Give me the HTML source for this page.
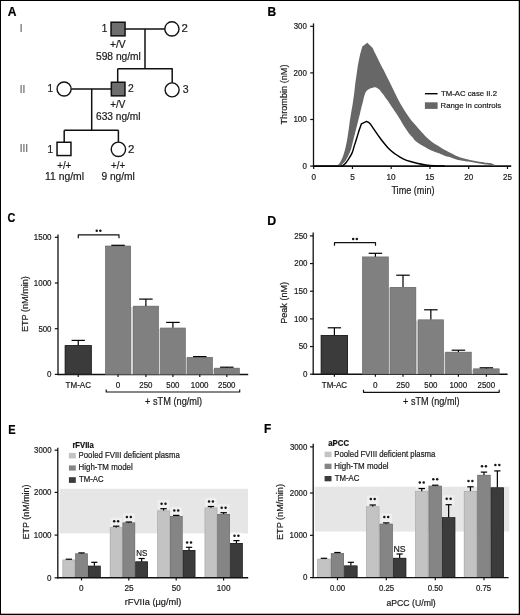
<!DOCTYPE html>
<html><head><meta charset="utf-8"><style>
html,body{margin:0;padding:0;background:#fff;}
svg{display:block;font-family:"Liberation Sans", sans-serif;will-change:transform;}
text{stroke:currentColor;stroke-width:0.2px;paint-order:stroke;}
</style></head><body>
<svg width="520" height="615" viewBox="0 0 520 615">
<rect x="0" y="0" width="520" height="615" fill="#fff"/>
<text x="7.80" y="15.80" font-size="12.2" fill="#000" color="#000" textLength="8.73" lengthAdjust="spacingAndGlyphs" font-weight="bold">A</text>
<text x="21.1" y="31.7" font-size="10" text-anchor="middle" fill="#6a6a6a" color="#6a6a6a">I</text>
<text x="22.6" y="92.6" font-size="10" text-anchor="middle" fill="#6a6a6a" color="#6a6a6a">II</text>
<text x="23.9" y="152.3" font-size="10" text-anchor="middle" fill="#6a6a6a" color="#6a6a6a">III</text>
<line x1="125" y1="29.1" x2="165" y2="29.1" stroke="#111" stroke-width="1.5"/>
<line x1="145" y1="29.1" x2="145" y2="68.7" stroke="#111" stroke-width="1.5"/>
<line x1="117.7" y1="68.7" x2="172.7" y2="68.7" stroke="#111" stroke-width="1.5"/>
<line x1="117.7" y1="68.7" x2="117.7" y2="82" stroke="#111" stroke-width="1.5"/>
<line x1="172.2" y1="68.7" x2="172.2" y2="83" stroke="#111" stroke-width="1.5"/>
<rect x="111.05" y="22.25" width="14" height="13.6" fill="#6e6e6e" stroke="#111" stroke-width="1.5"/>
<circle cx="171.9" cy="28.9" r="7.1" fill="#fff" stroke="#111" stroke-width="1.4"/>
<text x="104.6" y="32.0" font-size="10" text-anchor="middle" fill="#1a1a1a" color="#1a1a1a">1</text>
<text x="181.43" y="32.20" font-size="10" fill="#1a1a1a" color="#1a1a1a" textLength="6.36" lengthAdjust="spacingAndGlyphs">2</text>
<text x="110.01" y="48.10" font-size="10" fill="#1a1a1a" color="#1a1a1a" textLength="15.73" lengthAdjust="spacingAndGlyphs">+/V</text>
<text x="95.99" y="59.72" font-size="10" fill="#1a1a1a" color="#1a1a1a" textLength="44.89" lengthAdjust="spacingAndGlyphs">598 ng/ml</text>
<line x1="71.5" y1="88.9" x2="111" y2="88.9" stroke="#111" stroke-width="1.5"/>
<line x1="91.7" y1="88.9" x2="91.7" y2="130.2" stroke="#111" stroke-width="1.5"/>
<line x1="64.2" y1="130.2" x2="118.4" y2="130.2" stroke="#111" stroke-width="1.5"/>
<line x1="64.2" y1="130.2" x2="64.2" y2="142.5" stroke="#111" stroke-width="1.5"/>
<line x1="118.4" y1="130.2" x2="118.4" y2="143" stroke="#111" stroke-width="1.5"/>
<rect x="111.35" y="82.25" width="13.6" height="13.6" fill="#6e6e6e" stroke="#111" stroke-width="1.5"/>
<circle cx="64.1" cy="89" r="7.05" fill="#fff" stroke="#111" stroke-width="1.4"/>
<circle cx="172.1" cy="89.9" r="7.0" fill="#fff" stroke="#111" stroke-width="1.4"/>
<text x="50.4" y="92.3" font-size="10" text-anchor="middle" fill="#1a1a1a" color="#1a1a1a">1</text>
<text x="127.98" y="92.40" font-size="10" fill="#1a1a1a" color="#1a1a1a" textLength="5.74" lengthAdjust="spacingAndGlyphs">2</text>
<text x="182.71" y="93.20" font-size="10" fill="#1a1a1a" color="#1a1a1a" textLength="5.85" lengthAdjust="spacingAndGlyphs">3</text>
<text x="110.13" y="108.10" font-size="10" fill="#1a1a1a" color="#1a1a1a" textLength="15.11" lengthAdjust="spacingAndGlyphs">+/V</text>
<text x="95.99" y="120.42" font-size="10" fill="#1a1a1a" color="#1a1a1a" textLength="44.58" lengthAdjust="spacingAndGlyphs">633 ng/ml</text>
<rect x="57.05" y="142.25" width="13.9" height="13.3" fill="#fff" stroke="#111" stroke-width="1.5"/>
<circle cx="118.4" cy="149.3" r="7.2" fill="#fff" stroke="#111" stroke-width="1.4"/>
<text x="50.2" y="153.1" font-size="10" text-anchor="middle" fill="#1a1a1a" color="#1a1a1a">1</text>
<text x="127.93" y="153.10" font-size="10" fill="#1a1a1a" color="#1a1a1a" textLength="6.36" lengthAdjust="spacingAndGlyphs">2</text>
<text x="57.24" y="169.20" font-size="10" fill="#1a1a1a" color="#1a1a1a" textLength="14.03" lengthAdjust="spacingAndGlyphs">+/+</text>
<text x="111.04" y="169.20" font-size="10" fill="#1a1a1a" color="#1a1a1a" textLength="14.03" lengthAdjust="spacingAndGlyphs">+/+</text>
<text x="45.02" y="179.93" font-size="10" fill="#1a1a1a" color="#1a1a1a" textLength="38.96" lengthAdjust="spacingAndGlyphs">11 ng/ml</text>
<text x="101.42" y="179.93" font-size="10" fill="#1a1a1a" color="#1a1a1a" textLength="33.47" lengthAdjust="spacingAndGlyphs">9 ng/ml</text>
<text x="267.39" y="15.80" font-size="12.2" fill="#000" color="#000" textLength="8.64" lengthAdjust="spacingAndGlyphs" font-weight="bold">B</text>
<line x1="313.5" y1="23.4" x2="313.5" y2="166.9" stroke="#111" stroke-width="1.3"/>
<line x1="310.2" y1="166.1" x2="313.5" y2="166.1" stroke="#111" stroke-width="1.2"/>
<text x="302.38" y="168.94" font-size="8.3" fill="#1a1a1a" color="#1a1a1a" textLength="4.43" lengthAdjust="spacingAndGlyphs">0</text>
<line x1="310.2" y1="119.5" x2="313.5" y2="119.5" stroke="#111" stroke-width="1.2"/>
<text x="293.40" y="122.34" font-size="8.3" fill="#1a1a1a" color="#1a1a1a" textLength="13.41" lengthAdjust="spacingAndGlyphs">100</text>
<line x1="310.2" y1="72.9" x2="313.5" y2="72.9" stroke="#111" stroke-width="1.2"/>
<text x="293.60" y="75.74" font-size="8.3" fill="#1a1a1a" color="#1a1a1a" textLength="13.20" lengthAdjust="spacingAndGlyphs">200</text>
<line x1="310.2" y1="26.30000000000001" x2="313.5" y2="26.30000000000001" stroke="#111" stroke-width="1.2"/>
<text x="293.71" y="29.14" font-size="8.3" fill="#1a1a1a" color="#1a1a1a" textLength="13.10" lengthAdjust="spacingAndGlyphs">300</text>
<line x1="312.9" y1="166.1" x2="511.2" y2="166.1" stroke="#111" stroke-width="1.55"/>
<line x1="313.7" y1="166" x2="313.7" y2="169.0" stroke="#111" stroke-width="1.2"/>
<text x="311.42" y="179.72" font-size="8.3" fill="#1a1a1a" color="#1a1a1a" textLength="4.54" lengthAdjust="spacingAndGlyphs">0</text>
<line x1="352.45" y1="166" x2="352.45" y2="169.0" stroke="#111" stroke-width="1.2"/>
<text x="350.17" y="179.72" font-size="8.3" fill="#1a1a1a" color="#1a1a1a" textLength="4.57" lengthAdjust="spacingAndGlyphs">5</text>
<line x1="391.2" y1="166" x2="391.2" y2="169.0" stroke="#111" stroke-width="1.2"/>
<text x="386.48" y="179.72" font-size="8.3" fill="#1a1a1a" color="#1a1a1a" textLength="9.14" lengthAdjust="spacingAndGlyphs">10</text>
<line x1="429.95" y1="166" x2="429.95" y2="169.0" stroke="#111" stroke-width="1.2"/>
<text x="425.23" y="179.72" font-size="8.3" fill="#1a1a1a" color="#1a1a1a" textLength="9.17" lengthAdjust="spacingAndGlyphs">15</text>
<line x1="468.7" y1="166" x2="468.7" y2="169.0" stroke="#111" stroke-width="1.2"/>
<text x="464.20" y="179.72" font-size="8.3" fill="#1a1a1a" color="#1a1a1a" textLength="8.92" lengthAdjust="spacingAndGlyphs">20</text>
<line x1="507.45" y1="166" x2="507.45" y2="169.0" stroke="#111" stroke-width="1.2"/>
<text x="502.95" y="179.72" font-size="8.3" fill="#1a1a1a" color="#1a1a1a" textLength="8.94" lengthAdjust="spacingAndGlyphs">25</text>
<text x="391.40" y="193.62" font-size="10" fill="#1a1a1a" color="#1a1a1a" textLength="43.15" lengthAdjust="spacingAndGlyphs">Time (min)</text>
<text x="0" y="0" font-size="9.3" fill="#1a1a1a" color="#1a1a1a" textLength="59.95" lengthAdjust="spacingAndGlyphs" transform="translate(287.26 124.51) rotate(-90)">Thrombin (nM)</text>
<path d="M335.50,166.10 C335.73,166.03 336.34,166.11 337.00,165.60 C337.66,165.09 339.03,164.02 339.90,162.70 C340.77,161.38 342.00,158.86 342.80,156.80 C343.60,154.75 344.54,151.62 345.20,149.00 C345.86,146.38 346.68,142.23 347.20,139.30 C347.72,136.38 348.30,132.32 348.70,129.50 C349.10,126.68 349.52,123.06 349.90,120.50 C350.27,117.94 350.78,114.92 351.20,112.40 C351.62,109.88 352.26,106.46 352.70,103.70 C353.13,100.94 353.73,96.92 354.10,94.00 C354.48,91.08 354.82,87.12 355.20,84.20 C355.57,81.28 356.18,77.42 356.60,74.50 C357.02,71.58 357.49,67.62 358.00,64.70 C358.51,61.78 359.52,57.13 360.00,55.00 C360.48,52.87 360.85,51.79 361.20,50.50 C361.55,49.21 362.13,47.02 362.30,46.40 L367.3,42.8 L372.70,47.90 C373.10,48.77 374.42,51.68 375.40,53.70 C376.38,55.73 378.04,59.09 379.20,61.40 C380.36,63.71 382.05,67.03 383.10,69.10 C384.15,71.17 385.36,73.53 386.20,75.20 C387.04,76.87 387.60,77.98 388.70,80.20 C389.80,82.42 392.05,87.03 393.50,90.00 C394.95,92.97 397.25,97.75 398.40,100.00 C399.55,102.25 400.33,103.50 401.20,105.00 C402.07,106.50 403.25,108.50 404.20,110.00 C405.14,111.50 406.48,113.50 407.50,115.00 C408.52,116.50 409.88,118.56 411.00,120.00 C412.12,121.44 413.65,123.07 415.00,124.60 C416.35,126.13 418.27,128.31 420.00,130.20 C421.73,132.09 424.70,135.44 426.50,137.20 C428.30,138.95 430.26,140.61 432.00,141.90 C433.74,143.19 436.30,144.65 438.10,145.80 C439.90,146.96 442.27,148.59 444.00,149.60 C445.73,150.60 447.95,151.66 449.60,152.50 C451.25,153.34 453.26,154.42 455.00,155.20 C456.74,155.98 459.40,157.08 461.20,157.70 C463.00,158.31 465.27,158.87 467.00,159.30 C468.73,159.74 471.05,160.25 472.70,160.60 C474.35,160.94 476.31,161.33 478.00,161.60 C479.69,161.87 482.20,162.18 484.00,162.40 C485.80,162.62 488.65,162.86 490.00,163.10 C491.35,163.34 492.18,163.62 493.00,164.00 C493.82,164.38 495.12,165.36 495.50,165.60 L495.50,165.80 C494.68,165.70 491.73,165.32 490.00,165.10 C488.27,164.88 485.80,164.57 484.00,164.30 C482.20,164.03 479.69,163.60 478.00,163.30 C476.31,163.00 474.35,162.56 472.70,162.30 C471.05,162.05 468.73,161.85 467.00,161.60 C465.27,161.34 463.00,161.00 461.20,160.60 C459.40,160.19 456.74,159.43 455.00,158.90 C453.26,158.38 451.25,157.62 449.60,157.10 C447.95,156.57 445.73,156.00 444.00,155.40 C442.27,154.80 439.90,153.79 438.10,153.10 C436.30,152.41 433.74,151.58 432.00,150.80 C430.26,150.02 428.24,148.83 426.50,147.90 C424.76,146.97 422.12,145.69 420.40,144.60 C418.67,143.50 416.15,141.65 415.00,140.60 C413.85,139.55 413.63,138.71 412.70,137.60 C411.77,136.49 409.87,134.55 408.80,133.20 C407.74,131.85 406.47,129.89 405.60,128.60 C404.73,127.31 403.84,125.99 403.00,124.60 C402.16,123.20 400.98,120.92 400.00,119.30 C399.02,117.68 397.53,115.39 396.50,113.80 C395.47,112.21 394.13,110.26 393.10,108.70 C392.07,107.14 390.65,104.92 389.60,103.40 C388.55,101.89 387.14,100.04 386.10,98.60 C385.06,97.16 383.74,95.16 382.70,93.80 C381.66,92.44 380.12,90.40 379.20,89.50 C378.28,88.60 377.44,88.11 376.60,87.80 C375.76,87.48 374.64,87.27 373.60,87.40 C372.56,87.54 370.80,88.12 369.70,88.70 C368.60,89.28 367.11,90.22 366.30,91.30 C365.49,92.38 364.81,94.34 364.30,95.90 C363.79,97.46 363.33,99.95 362.90,101.70 C362.46,103.45 361.83,105.84 361.40,107.60 C360.96,109.35 360.45,111.57 360.00,113.40 C359.55,115.23 359.00,117.38 358.40,119.80 C357.80,122.22 356.74,126.58 356.00,129.50 C355.26,132.43 354.24,136.38 353.50,139.30 C352.76,142.23 351.90,146.51 351.10,149.00 C350.31,151.49 349.14,154.00 348.20,155.90 C347.25,157.81 345.90,160.29 344.80,161.70 C343.70,163.11 341.69,164.64 340.90,165.30 C340.10,165.96 339.71,165.98 339.50,166.10 Z" fill="#676767"/>
<path d="M313.80,166.10 C317.13,166.10 331.80,166.13 336.00,166.10 C340.20,166.07 340.48,166.20 341.80,165.90 C343.12,165.60 343.76,165.16 344.80,164.10 C345.84,163.03 347.60,160.48 348.70,158.80 C349.80,157.12 351.23,154.96 352.10,152.90 C352.97,150.84 353.76,147.44 354.50,145.10 C355.24,142.76 356.26,139.64 357.00,137.30 C357.74,134.96 358.74,131.53 359.40,129.50 C360.06,127.47 361.10,124.66 361.40,123.80 L366.60,121.40 C366.90,121.55 368.02,121.98 368.60,122.40 C369.19,122.82 369.69,123.17 370.50,124.20 C371.31,125.23 372.80,127.56 374.00,129.30 C375.20,131.04 377.25,134.05 378.50,135.80 C379.75,137.56 380.71,139.02 382.30,141.00 C383.89,142.98 387.17,147.05 389.10,149.00 C391.04,150.95 393.62,152.83 395.20,154.00 C396.77,155.17 398.25,155.99 399.60,156.80 C400.95,157.61 402.58,158.69 404.20,159.40 C405.82,160.11 408.33,160.88 410.40,161.50 C412.47,162.12 415.69,162.97 418.00,163.50 C420.31,164.03 423.48,164.66 425.80,165.00 C428.12,165.34 430.62,165.64 433.50,165.80 C436.38,165.97 443.27,166.06 445.00,166.10" fill="none" stroke="#000" stroke-width="1.45" stroke-linejoin="round"/>
<line x1="424.9" y1="93.7" x2="437.6" y2="93.7" stroke="#000" stroke-width="1.4"/>
<text x="441.03" y="96.02" font-size="7.6" fill="#1a1a1a" color="#1a1a1a" textLength="55.97" lengthAdjust="spacingAndGlyphs">TM-AC case II.2</text>
<rect x="424.9" y="102.3" width="12.7" height="6.6" fill="#676767"/>
<text x="440.56" y="108.02" font-size="7.6" fill="#1a1a1a" color="#1a1a1a" textLength="60.71" lengthAdjust="spacingAndGlyphs">Range in controls</text>
<text x="7.57" y="222.08" font-size="12.2" fill="#000" color="#000" textLength="7.83" lengthAdjust="spacingAndGlyphs" font-weight="bold">C</text>
<line x1="58.0" y1="234.5" x2="58.0" y2="375.09999999999997" stroke="#111" stroke-width="1.3"/>
<line x1="54.8" y1="374.4" x2="58.0" y2="374.4" stroke="#111" stroke-width="1.2"/>
<text x="47.08" y="377.24" font-size="8.3" fill="#1a1a1a" color="#1a1a1a" textLength="4.43" lengthAdjust="spacingAndGlyphs">0</text>
<line x1="54.8" y1="328.7" x2="58.0" y2="328.7" stroke="#111" stroke-width="1.2"/>
<text x="38.39" y="331.54" font-size="8.3" fill="#1a1a1a" color="#1a1a1a" textLength="13.12" lengthAdjust="spacingAndGlyphs">500</text>
<line x1="54.8" y1="283.0" x2="58.0" y2="283.0" stroke="#111" stroke-width="1.2"/>
<text x="33.80" y="285.84" font-size="8.3" fill="#1a1a1a" color="#1a1a1a" textLength="17.71" lengthAdjust="spacingAndGlyphs">1000</text>
<line x1="54.8" y1="237.3" x2="58.0" y2="237.3" stroke="#111" stroke-width="1.2"/>
<text x="33.80" y="240.14" font-size="8.3" fill="#1a1a1a" color="#1a1a1a" textLength="17.71" lengthAdjust="spacingAndGlyphs">1500</text>
<text x="0" y="0" font-size="9.3" fill="#1a1a1a" color="#1a1a1a" textLength="55.70" lengthAdjust="spacingAndGlyphs" transform="translate(27.61 331.95) rotate(-90)">ETP (nM/min)</text>
<line x1="57.4" y1="374.4" x2="248.2" y2="374.4" stroke="#111" stroke-width="1.45"/>
<rect x="64.8" y="345.2" width="26.900000000000006" height="29.19999999999999" fill="#3b3b3b"/>
<rect x="65.2" y="345.59999999999997" width="26.100000000000005" height="28.399999999999988" fill="none" stroke="#222" stroke-width="0.8"/>
<line x1="78.25" y1="345.2" x2="78.25" y2="340.4" stroke="#000" stroke-width="1.2"/>
<line x1="71.6" y1="340.4" x2="84.9" y2="340.4" stroke="#000" stroke-width="1.2"/>
<line x1="78.25" y1="374.4" x2="78.25" y2="377.0" stroke="#111" stroke-width="1.2"/>
<text x="65.57" y="387.72" font-size="8.3" fill="#1a1a1a" color="#1a1a1a" textLength="25.47" lengthAdjust="spacingAndGlyphs">TM-AC</text>
<rect x="130.70000000000002" y="306.9" width="2.4999999999999942" height="67.5" fill="#d6d6d6"/>
<rect x="158.60000000000002" y="328.8" width="1.7999999999999772" height="45.599999999999966" fill="#d6d6d6"/>
<rect x="185.4" y="358.1" width="1.7000000000000113" height="16.299999999999955" fill="#d6d6d6"/>
<rect x="212.5" y="368.9" width="1.7000000000000113" height="5.5" fill="#d6d6d6"/>
<rect x="105.2" y="245.8" width="25.700000000000003" height="128.59999999999997" fill="#808080"/>
<rect x="105.5" y="246.10000000000002" width="25.1" height="127.99999999999997" fill="none" stroke="#727272" stroke-width="0.6"/>
<line x1="118.05000000000001" y1="245.8" x2="118.05000000000001" y2="245.3" stroke="#000" stroke-width="1.2"/>
<line x1="111.30000000000001" y1="245.3" x2="124.80000000000001" y2="245.3" stroke="#000" stroke-width="1.2"/>
<line x1="118.05000000000001" y1="374.4" x2="118.05000000000001" y2="377.0" stroke="#111" stroke-width="1.2"/>
<text x="115.77" y="387.72" font-size="8.3" fill="#1a1a1a" color="#1a1a1a" textLength="4.54" lengthAdjust="spacingAndGlyphs">0</text>
<rect x="133.0" y="305.9" width="25.80000000000001" height="68.5" fill="#808080"/>
<rect x="133.3" y="306.2" width="25.20000000000001" height="67.9" fill="none" stroke="#727272" stroke-width="0.6"/>
<line x1="145.9" y1="305.9" x2="145.9" y2="299.1" stroke="#000" stroke-width="1.2"/>
<line x1="139.15" y1="299.1" x2="152.65" y2="299.1" stroke="#000" stroke-width="1.2"/>
<line x1="145.9" y1="374.4" x2="145.9" y2="377.0" stroke="#111" stroke-width="1.2"/>
<text x="139.25" y="387.72" font-size="8.3" fill="#1a1a1a" color="#1a1a1a" textLength="13.20" lengthAdjust="spacingAndGlyphs">250</text>
<rect x="160.2" y="327.8" width="25.400000000000006" height="46.599999999999966" fill="#808080"/>
<rect x="160.5" y="328.1" width="24.800000000000004" height="45.999999999999964" fill="none" stroke="#727272" stroke-width="0.6"/>
<line x1="172.89999999999998" y1="327.8" x2="172.89999999999998" y2="322.4" stroke="#000" stroke-width="1.2"/>
<line x1="166.14999999999998" y1="322.4" x2="179.64999999999998" y2="322.4" stroke="#000" stroke-width="1.2"/>
<line x1="172.89999999999998" y1="374.4" x2="172.89999999999998" y2="377.0" stroke="#111" stroke-width="1.2"/>
<text x="166.34" y="387.72" font-size="8.3" fill="#1a1a1a" color="#1a1a1a" textLength="13.12" lengthAdjust="spacingAndGlyphs">500</text>
<rect x="186.9" y="357.1" width="25.799999999999983" height="17.299999999999955" fill="#808080"/>
<rect x="187.20000000000002" y="357.40000000000003" width="25.19999999999998" height="16.699999999999953" fill="none" stroke="#727272" stroke-width="0.6"/>
<line x1="199.8" y1="357.1" x2="199.8" y2="356.6" stroke="#000" stroke-width="1.2"/>
<line x1="193.05" y1="356.6" x2="206.55" y2="356.6" stroke="#000" stroke-width="1.2"/>
<line x1="199.8" y1="374.4" x2="199.8" y2="377.0" stroke="#111" stroke-width="1.2"/>
<text x="190.80" y="387.72" font-size="8.3" fill="#1a1a1a" color="#1a1a1a" textLength="17.71" lengthAdjust="spacingAndGlyphs">1000</text>
<rect x="214.0" y="367.9" width="25.599999999999994" height="6.5" fill="#808080"/>
<rect x="214.3" y="368.2" width="24.999999999999993" height="5.9" fill="none" stroke="#727272" stroke-width="0.6"/>
<line x1="226.8" y1="367.9" x2="226.8" y2="367.2" stroke="#000" stroke-width="1.2"/>
<line x1="220.05" y1="367.2" x2="233.55" y2="367.2" stroke="#000" stroke-width="1.2"/>
<line x1="226.8" y1="374.4" x2="226.8" y2="377.0" stroke="#111" stroke-width="1.2"/>
<text x="218.01" y="387.72" font-size="8.3" fill="#1a1a1a" color="#1a1a1a" textLength="17.51" lengthAdjust="spacingAndGlyphs">2500</text>
<path d="M106.2,389.4 L106.2,392.0 L239.7,392.0 L239.7,389.4" fill="none" stroke="#111" stroke-width="1.2" stroke-linejoin="round"/>
<text x="144.96" y="404.62" font-size="10" fill="#1a1a1a" color="#1a1a1a" textLength="57.19" lengthAdjust="spacingAndGlyphs">+ sTM (ng/ml)</text>
<path d="M78.3,238.20000000000002 L78.3,234.9 L119.0,234.9 L119.0,238.20000000000002" fill="none" stroke="#111" stroke-width="1.2" stroke-linejoin="round"/>
<circle cx="96.75" cy="230.65" r="1.25" fill="#151515" stroke="none" stroke-width="0"/>
<circle cx="100.35" cy="230.65" r="1.25" fill="#151515" stroke="none" stroke-width="0"/>
<text x="267.26" y="224.70" font-size="12.2" fill="#000" color="#000" textLength="8.96" lengthAdjust="spacingAndGlyphs" font-weight="bold">D</text>
<line x1="313.2" y1="232.5" x2="313.2" y2="374.9" stroke="#111" stroke-width="1.3"/>
<line x1="310.0" y1="374.2" x2="313.2" y2="374.2" stroke="#111" stroke-width="1.2"/>
<text x="303.08" y="377.04" font-size="8.3" fill="#1a1a1a" color="#1a1a1a" textLength="4.43" lengthAdjust="spacingAndGlyphs">0</text>
<line x1="310.0" y1="346.53999999999996" x2="313.2" y2="346.53999999999996" stroke="#111" stroke-width="1.2"/>
<text x="298.68" y="349.38" font-size="8.3" fill="#1a1a1a" color="#1a1a1a" textLength="8.83" lengthAdjust="spacingAndGlyphs">50</text>
<line x1="310.0" y1="318.88" x2="313.2" y2="318.88" stroke="#111" stroke-width="1.2"/>
<text x="294.10" y="321.72" font-size="8.3" fill="#1a1a1a" color="#1a1a1a" textLength="13.41" lengthAdjust="spacingAndGlyphs">100</text>
<line x1="310.0" y1="291.22" x2="313.2" y2="291.22" stroke="#111" stroke-width="1.2"/>
<text x="294.10" y="294.06" font-size="8.3" fill="#1a1a1a" color="#1a1a1a" textLength="13.41" lengthAdjust="spacingAndGlyphs">150</text>
<line x1="310.0" y1="263.56" x2="313.2" y2="263.56" stroke="#111" stroke-width="1.2"/>
<text x="294.30" y="266.40" font-size="8.3" fill="#1a1a1a" color="#1a1a1a" textLength="13.20" lengthAdjust="spacingAndGlyphs">200</text>
<line x1="310.0" y1="235.9" x2="313.2" y2="235.9" stroke="#111" stroke-width="1.2"/>
<text x="294.30" y="238.74" font-size="8.3" fill="#1a1a1a" color="#1a1a1a" textLength="13.20" lengthAdjust="spacingAndGlyphs">250</text>
<text x="0" y="0" font-size="9.3" fill="#1a1a1a" color="#1a1a1a" textLength="41.79" lengthAdjust="spacingAndGlyphs" transform="translate(287.46 323.75) rotate(-90)">Peak (nM)</text>
<line x1="312.59999999999997" y1="374.2" x2="507.6" y2="374.2" stroke="#111" stroke-width="1.45"/>
<rect x="320.8" y="335.0" width="27.19999999999999" height="39.19999999999999" fill="#3b3b3b"/>
<rect x="321.2" y="335.4" width="26.399999999999988" height="38.39999999999999" fill="none" stroke="#222" stroke-width="0.8"/>
<line x1="334.4" y1="335.0" x2="334.4" y2="327.8" stroke="#000" stroke-width="1.2"/>
<line x1="327.75" y1="327.8" x2="341.04999999999995" y2="327.8" stroke="#000" stroke-width="1.2"/>
<line x1="334.4" y1="374.2" x2="334.4" y2="376.8" stroke="#111" stroke-width="1.2"/>
<text x="321.72" y="387.82" font-size="8.3" fill="#1a1a1a" color="#1a1a1a" textLength="25.47" lengthAdjust="spacingAndGlyphs">TM-AC</text>
<rect x="388.40000000000003" y="288.0" width="1.6999999999999544" height="86.19999999999999" fill="#d6d6d6"/>
<rect x="415.90000000000003" y="320.6" width="2.1999999999999544" height="53.599999999999966" fill="#d6d6d6"/>
<rect x="443.6" y="352.9" width="1.9" height="21.30000000000001" fill="#d6d6d6"/>
<rect x="471.3" y="369.6" width="2.2000000000000113" height="4.599999999999966" fill="#d6d6d6"/>
<rect x="362.2" y="256.7" width="26.400000000000034" height="117.5" fill="#808080"/>
<rect x="362.5" y="257.0" width="25.800000000000033" height="116.9" fill="none" stroke="#727272" stroke-width="0.6"/>
<line x1="375.4" y1="256.7" x2="375.4" y2="253.3" stroke="#000" stroke-width="1.2"/>
<line x1="368.65" y1="253.3" x2="382.15" y2="253.3" stroke="#000" stroke-width="1.2"/>
<line x1="375.4" y1="374.2" x2="375.4" y2="376.8" stroke="#111" stroke-width="1.2"/>
<text x="373.12" y="387.82" font-size="8.3" fill="#1a1a1a" color="#1a1a1a" textLength="4.54" lengthAdjust="spacingAndGlyphs">0</text>
<rect x="389.9" y="287.0" width="26.200000000000045" height="87.19999999999999" fill="#808080"/>
<rect x="390.2" y="287.3" width="25.600000000000044" height="86.6" fill="none" stroke="#727272" stroke-width="0.6"/>
<line x1="403.0" y1="287.0" x2="403.0" y2="275.2" stroke="#000" stroke-width="1.2"/>
<line x1="396.25" y1="275.2" x2="409.75" y2="275.2" stroke="#000" stroke-width="1.2"/>
<line x1="403.0" y1="374.2" x2="403.0" y2="376.8" stroke="#111" stroke-width="1.2"/>
<text x="396.35" y="387.82" font-size="8.3" fill="#1a1a1a" color="#1a1a1a" textLength="13.20" lengthAdjust="spacingAndGlyphs">250</text>
<rect x="417.9" y="319.6" width="25.900000000000034" height="54.599999999999966" fill="#808080"/>
<rect x="418.2" y="319.90000000000003" width="25.300000000000033" height="53.999999999999964" fill="none" stroke="#727272" stroke-width="0.6"/>
<line x1="430.85" y1="319.6" x2="430.85" y2="309.8" stroke="#000" stroke-width="1.2"/>
<line x1="424.1" y1="309.8" x2="437.6" y2="309.8" stroke="#000" stroke-width="1.2"/>
<line x1="430.85" y1="374.2" x2="430.85" y2="376.8" stroke="#111" stroke-width="1.2"/>
<text x="424.29" y="387.82" font-size="8.3" fill="#1a1a1a" color="#1a1a1a" textLength="13.12" lengthAdjust="spacingAndGlyphs">500</text>
<rect x="445.3" y="351.9" width="26.19999999999999" height="22.30000000000001" fill="#808080"/>
<rect x="445.6" y="352.2" width="25.599999999999987" height="21.70000000000001" fill="none" stroke="#727272" stroke-width="0.6"/>
<line x1="458.4" y1="351.9" x2="458.4" y2="350.2" stroke="#000" stroke-width="1.2"/>
<line x1="451.65" y1="350.2" x2="465.15" y2="350.2" stroke="#000" stroke-width="1.2"/>
<line x1="458.4" y1="374.2" x2="458.4" y2="376.8" stroke="#111" stroke-width="1.2"/>
<text x="449.40" y="387.82" font-size="8.3" fill="#1a1a1a" color="#1a1a1a" textLength="17.71" lengthAdjust="spacingAndGlyphs">1000</text>
<rect x="473.3" y="368.6" width="26.099999999999966" height="5.599999999999966" fill="#808080"/>
<rect x="473.6" y="368.90000000000003" width="25.499999999999964" height="4.999999999999966" fill="none" stroke="#727272" stroke-width="0.6"/>
<line x1="486.35" y1="368.6" x2="486.35" y2="367.8" stroke="#000" stroke-width="1.2"/>
<line x1="479.6" y1="367.8" x2="493.1" y2="367.8" stroke="#000" stroke-width="1.2"/>
<line x1="486.35" y1="374.2" x2="486.35" y2="376.8" stroke="#111" stroke-width="1.2"/>
<text x="477.56" y="387.82" font-size="8.3" fill="#1a1a1a" color="#1a1a1a" textLength="17.51" lengthAdjust="spacingAndGlyphs">2500</text>
<path d="M363.5,389.7 L363.5,392.3 L499.2,392.3 L499.2,389.7" fill="none" stroke="#111" stroke-width="1.2" stroke-linejoin="round"/>
<text x="403.07" y="404.62" font-size="10" fill="#1a1a1a" color="#1a1a1a" textLength="56.48" lengthAdjust="spacingAndGlyphs">+ sTM (ng/ml)</text>
<path d="M334.5,245.79999999999998 L334.5,242.6 L375.5,242.6 L375.5,245.79999999999998" fill="none" stroke="#111" stroke-width="1.2" stroke-linejoin="round"/>
<circle cx="353.2" cy="238.9" r="1.25" fill="#151515" stroke="none" stroke-width="0"/>
<circle cx="356.8" cy="238.9" r="1.25" fill="#151515" stroke="none" stroke-width="0"/>
<text x="8.15" y="434.20" font-size="12.2" fill="#000" color="#000" textLength="7.38" lengthAdjust="spacingAndGlyphs" font-weight="bold">E</text>
<rect x="59.6" y="488.8" width="188.4" height="44.599999999999966" fill="#e6e6e6"/>
<line x1="57.8" y1="447.8" x2="57.8" y2="578.5" stroke="#111" stroke-width="1.3"/>
<line x1="54.599999999999994" y1="577.8" x2="57.8" y2="577.8" stroke="#111" stroke-width="1.2"/>
<text x="47.08" y="580.64" font-size="8.3" fill="#1a1a1a" color="#1a1a1a" textLength="4.43" lengthAdjust="spacingAndGlyphs">0</text>
<line x1="54.599999999999994" y1="535.1" x2="57.8" y2="535.1" stroke="#111" stroke-width="1.2"/>
<text x="33.80" y="537.94" font-size="8.3" fill="#1a1a1a" color="#1a1a1a" textLength="17.71" lengthAdjust="spacingAndGlyphs">1000</text>
<line x1="54.599999999999994" y1="492.4" x2="57.8" y2="492.4" stroke="#111" stroke-width="1.2"/>
<text x="34.01" y="495.24" font-size="8.3" fill="#1a1a1a" color="#1a1a1a" textLength="17.51" lengthAdjust="spacingAndGlyphs">2000</text>
<line x1="54.599999999999994" y1="450.2" x2="57.8" y2="450.2" stroke="#111" stroke-width="1.2"/>
<text x="34.11" y="453.04" font-size="8.3" fill="#1a1a1a" color="#1a1a1a" textLength="17.40" lengthAdjust="spacingAndGlyphs">3000</text>
<text x="0" y="0" font-size="9.3" fill="#1a1a1a" color="#1a1a1a" textLength="55.09" lengthAdjust="spacingAndGlyphs" transform="translate(28.51 539.54) rotate(-90)">ETP (nM/min)</text>
<text x="72.40" y="447.62" font-size="8.2" fill="#111" color="#111" textLength="21.25" lengthAdjust="spacingAndGlyphs" font-weight="bold">rFVIIa</text>
<rect x="68.9" y="452.9" width="6.8999999999999915" height="5.600000000000023" fill="#c3c3c3"/>
<text x="78.56" y="458.46" font-size="8.4" fill="#1a1a1a" color="#1a1a1a" textLength="101.24" lengthAdjust="spacingAndGlyphs">Pooled FVIII deficient plasma</text>
<rect x="68.9" y="465.4" width="6.8999999999999915" height="5.2000000000000455" fill="#858585"/>
<text x="78.55" y="470.26" font-size="8.4" fill="#1a1a1a" color="#1a1a1a" textLength="54.19" lengthAdjust="spacingAndGlyphs">High-TM model</text>
<rect x="68.9" y="477.2" width="6.8999999999999915" height="5.699999999999989" fill="#3b3b3b"/>
<text x="79.03" y="482.42" font-size="8.4" fill="#1a1a1a" color="#1a1a1a" textLength="24.55" lengthAdjust="spacingAndGlyphs">TM-AC</text>
<rect x="110.35" y="517.70" width="11.6" height="9.00" fill="#fff" opacity="0.4"/>
<rect x="123.05" y="513.50" width="11.6" height="9.00" fill="#fff" opacity="0.4"/>
<rect x="157.75" y="500.20" width="11.6" height="9.00" fill="#fff" opacity="0.4"/>
<rect x="170.45" y="506.90" width="11.6" height="9.00" fill="#fff" opacity="0.4"/>
<rect x="183.25" y="538.80" width="11.6" height="9.00" fill="#fff" opacity="0.4"/>
<rect x="205.15" y="498.00" width="11.6" height="9.00" fill="#fff" opacity="0.4"/>
<rect x="217.85" y="504.20" width="11.6" height="9.00" fill="#fff" opacity="0.4"/>
<rect x="230.65" y="532.10" width="11.6" height="9.00" fill="#fff" opacity="0.4"/>
<rect x="62.6" y="559.7" width="12.499999999999993" height="18.09999999999991" fill="#c3c3c3"/>
<rect x="62.9" y="560.0" width="11.899999999999993" height="17.499999999999908" fill="none" stroke="#aaaaaa" stroke-width="0.6"/>
<line x1="68.85" y1="559.7" x2="68.85" y2="559.2" stroke="#000" stroke-width="1.2"/>
<line x1="65.64999999999999" y1="559.2" x2="72.05" y2="559.2" stroke="#000" stroke-width="1.2"/>
<rect x="75.3" y="553.5" width="12.5" height="24.299999999999955" fill="#858585"/>
<rect x="75.6" y="553.8" width="11.9" height="23.699999999999953" fill="none" stroke="#707070" stroke-width="0.6"/>
<line x1="81.55" y1="553.5" x2="81.55" y2="552.9" stroke="#000" stroke-width="1.2"/>
<line x1="78.35" y1="552.9" x2="84.75" y2="552.9" stroke="#000" stroke-width="1.2"/>
<rect x="88.1" y="565.8" width="12.5" height="12.0" fill="#3b3b3b"/>
<rect x="88.39999999999999" y="566.0999999999999" width="11.9" height="11.4" fill="none" stroke="#222" stroke-width="0.6"/>
<line x1="94.35" y1="565.8" x2="94.35" y2="562.3" stroke="#000" stroke-width="1.2"/>
<line x1="91.25" y1="562.3" x2="97.44999999999999" y2="562.3" stroke="#000" stroke-width="1.2"/>
<line x1="81.5" y1="577.8" x2="81.5" y2="580.4" stroke="#111" stroke-width="1.2"/>
<rect x="109.9" y="527.4" width="12.5" height="50.39999999999998" fill="#c3c3c3"/>
<rect x="110.2" y="527.6999999999999" width="11.9" height="49.799999999999976" fill="none" stroke="#aaaaaa" stroke-width="0.6"/>
<line x1="116.15" y1="527.4" x2="116.15" y2="526.2" stroke="#000" stroke-width="1.2"/>
<line x1="112.95" y1="526.2" x2="119.35000000000001" y2="526.2" stroke="#000" stroke-width="1.2"/>
<circle cx="114.2" cy="521.3000000000001" r="1.25" fill="#151515" stroke="none" stroke-width="0"/>
<circle cx="118.10000000000001" cy="521.3000000000001" r="1.25" fill="#151515" stroke="none" stroke-width="0"/>
<rect x="122.60000000000001" y="522.6" width="12.500000000000014" height="55.19999999999993" fill="#858585"/>
<rect x="122.9" y="522.9" width="11.900000000000015" height="54.59999999999993" fill="none" stroke="#707070" stroke-width="0.6"/>
<line x1="128.85000000000002" y1="522.6" x2="128.85000000000002" y2="522.0" stroke="#000" stroke-width="1.2"/>
<line x1="125.65000000000002" y1="522.0" x2="132.05" y2="522.0" stroke="#000" stroke-width="1.2"/>
<circle cx="126.90000000000002" cy="517.1" r="1.25" fill="#151515" stroke="none" stroke-width="0"/>
<circle cx="130.8" cy="517.1" r="1.25" fill="#151515" stroke="none" stroke-width="0"/>
<rect x="135.4" y="561.5" width="12.5" height="16.299999999999955" fill="#3b3b3b"/>
<rect x="135.70000000000002" y="561.8" width="11.9" height="15.699999999999955" fill="none" stroke="#222" stroke-width="0.6"/>
<line x1="141.65" y1="561.5" x2="141.65" y2="558.5" stroke="#000" stroke-width="1.2"/>
<line x1="138.55" y1="558.5" x2="144.75" y2="558.5" stroke="#000" stroke-width="1.2"/>
<text x="136.25" y="555.62" font-size="8.4" fill="#1a1a1a" color="#1a1a1a" textLength="11.00" lengthAdjust="spacingAndGlyphs">NS</text>
<line x1="128.8" y1="577.8" x2="128.8" y2="580.4" stroke="#111" stroke-width="1.2"/>
<rect x="157.29999999999998" y="510.6" width="12.5" height="67.19999999999993" fill="#c3c3c3"/>
<rect x="157.6" y="510.90000000000003" width="11.9" height="66.59999999999994" fill="none" stroke="#aaaaaa" stroke-width="0.6"/>
<line x1="163.54999999999998" y1="510.6" x2="163.54999999999998" y2="508.7" stroke="#000" stroke-width="1.2"/>
<line x1="160.35" y1="508.7" x2="166.74999999999997" y2="508.7" stroke="#000" stroke-width="1.2"/>
<circle cx="161.6" cy="503.8" r="1.25" fill="#151515" stroke="none" stroke-width="0"/>
<circle cx="165.49999999999997" cy="503.8" r="1.25" fill="#151515" stroke="none" stroke-width="0"/>
<rect x="170.0" y="516.0" width="12.5" height="61.799999999999955" fill="#858585"/>
<rect x="170.3" y="516.3" width="11.9" height="61.19999999999995" fill="none" stroke="#707070" stroke-width="0.6"/>
<line x1="176.25" y1="516.0" x2="176.25" y2="515.4" stroke="#000" stroke-width="1.2"/>
<line x1="173.05" y1="515.4" x2="179.45" y2="515.4" stroke="#000" stroke-width="1.2"/>
<circle cx="174.3" cy="510.5" r="1.25" fill="#151515" stroke="none" stroke-width="0"/>
<circle cx="178.2" cy="510.5" r="1.25" fill="#151515" stroke="none" stroke-width="0"/>
<rect x="182.79999999999998" y="550.0" width="12.5" height="27.799999999999955" fill="#3b3b3b"/>
<rect x="183.1" y="550.3" width="11.9" height="27.199999999999953" fill="none" stroke="#222" stroke-width="0.6"/>
<line x1="189.04999999999998" y1="550.0" x2="189.04999999999998" y2="547.3" stroke="#000" stroke-width="1.2"/>
<line x1="185.95" y1="547.3" x2="192.14999999999998" y2="547.3" stroke="#000" stroke-width="1.2"/>
<circle cx="187.1" cy="542.4" r="1.25" fill="#151515" stroke="none" stroke-width="0"/>
<circle cx="190.99999999999997" cy="542.4" r="1.25" fill="#151515" stroke="none" stroke-width="0"/>
<line x1="176.2" y1="577.8" x2="176.2" y2="580.4" stroke="#111" stroke-width="1.2"/>
<rect x="204.7" y="507.7" width="12.5" height="70.09999999999997" fill="#c3c3c3"/>
<rect x="205.0" y="508.0" width="11.9" height="69.49999999999997" fill="none" stroke="#aaaaaa" stroke-width="0.6"/>
<line x1="210.95" y1="507.7" x2="210.95" y2="506.5" stroke="#000" stroke-width="1.2"/>
<line x1="207.75" y1="506.5" x2="214.14999999999998" y2="506.5" stroke="#000" stroke-width="1.2"/>
<circle cx="209.0" cy="501.6" r="1.25" fill="#151515" stroke="none" stroke-width="0"/>
<circle cx="212.89999999999998" cy="501.6" r="1.25" fill="#151515" stroke="none" stroke-width="0"/>
<rect x="217.4" y="514.0" width="12.5" height="63.799999999999955" fill="#858585"/>
<rect x="217.70000000000002" y="514.3" width="11.9" height="63.19999999999995" fill="none" stroke="#707070" stroke-width="0.6"/>
<line x1="223.65" y1="514.0" x2="223.65" y2="512.7" stroke="#000" stroke-width="1.2"/>
<line x1="220.45000000000002" y1="512.7" x2="226.85" y2="512.7" stroke="#000" stroke-width="1.2"/>
<circle cx="221.70000000000002" cy="507.80000000000007" r="1.25" fill="#151515" stroke="none" stroke-width="0"/>
<circle cx="225.6" cy="507.80000000000007" r="1.25" fill="#151515" stroke="none" stroke-width="0"/>
<rect x="230.2" y="543.0" width="12.5" height="34.799999999999955" fill="#3b3b3b"/>
<rect x="230.5" y="543.3" width="11.9" height="34.19999999999995" fill="none" stroke="#222" stroke-width="0.6"/>
<line x1="236.45" y1="543.0" x2="236.45" y2="540.6" stroke="#000" stroke-width="1.2"/>
<line x1="233.35" y1="540.6" x2="239.54999999999998" y2="540.6" stroke="#000" stroke-width="1.2"/>
<circle cx="234.5" cy="535.7" r="1.25" fill="#151515" stroke="none" stroke-width="0"/>
<circle cx="238.39999999999998" cy="535.7" r="1.25" fill="#151515" stroke="none" stroke-width="0"/>
<line x1="223.6" y1="577.8" x2="223.6" y2="580.4" stroke="#111" stroke-width="1.2"/>
<line x1="57.199999999999996" y1="577.8" x2="248.2" y2="577.8" stroke="#111" stroke-width="1.45"/>
<text x="79.02" y="591.12" font-size="8.3" fill="#1a1a1a" color="#1a1a1a" textLength="4.54" lengthAdjust="spacingAndGlyphs">0</text>
<text x="124.39" y="591.12" font-size="8.3" fill="#1a1a1a" color="#1a1a1a" textLength="9.16" lengthAdjust="spacingAndGlyphs">25</text>
<text x="171.77" y="591.12" font-size="8.3" fill="#1a1a1a" color="#1a1a1a" textLength="9.05" lengthAdjust="spacingAndGlyphs">50</text>
<text x="216.81" y="591.12" font-size="8.3" fill="#1a1a1a" color="#1a1a1a" textLength="13.68" lengthAdjust="spacingAndGlyphs">100</text>
<text x="124.70" y="605.43" font-size="9.5" fill="#1a1a1a" color="#1a1a1a" textLength="56.75" lengthAdjust="spacingAndGlyphs">rFVIIa (&#956;g/ml)</text>
<text x="264.10" y="432.60" font-size="12.2" fill="#000" color="#000" textLength="7.22" lengthAdjust="spacingAndGlyphs" font-weight="bold">F</text>
<rect x="314.8" y="486.7" width="194.39999999999998" height="44.80000000000001" fill="#e6e6e6"/>
<line x1="313.2" y1="443.7" x2="313.2" y2="578.3000000000001" stroke="#111" stroke-width="1.3"/>
<line x1="310.0" y1="577.6" x2="313.2" y2="577.6" stroke="#111" stroke-width="1.2"/>
<text x="302.88" y="580.44" font-size="8.3" fill="#1a1a1a" color="#1a1a1a" textLength="4.43" lengthAdjust="spacingAndGlyphs">0</text>
<line x1="310.0" y1="535.3" x2="313.2" y2="535.3" stroke="#111" stroke-width="1.2"/>
<text x="289.60" y="538.14" font-size="8.3" fill="#1a1a1a" color="#1a1a1a" textLength="17.71" lengthAdjust="spacingAndGlyphs">1000</text>
<line x1="310.0" y1="493.0" x2="313.2" y2="493.0" stroke="#111" stroke-width="1.2"/>
<text x="289.81" y="495.84" font-size="8.3" fill="#1a1a1a" color="#1a1a1a" textLength="17.51" lengthAdjust="spacingAndGlyphs">2000</text>
<line x1="310.0" y1="446.9" x2="313.2" y2="446.9" stroke="#111" stroke-width="1.2"/>
<text x="289.91" y="449.74" font-size="8.3" fill="#1a1a1a" color="#1a1a1a" textLength="17.40" lengthAdjust="spacingAndGlyphs">3000</text>
<text x="0" y="0" font-size="9.3" fill="#1a1a1a" color="#1a1a1a" textLength="55.91" lengthAdjust="spacingAndGlyphs" transform="translate(282.91 539.95) rotate(-90)">ETP (nM/min)</text>
<text x="328.27" y="445.62" font-size="8.2" fill="#111" color="#111" textLength="20.75" lengthAdjust="spacingAndGlyphs" font-weight="bold">aPCC</text>
<rect x="324.6" y="451.7" width="6.899999999999977" height="5.5" fill="#c3c3c3"/>
<text x="334.26" y="457.06" font-size="8.4" fill="#1a1a1a" color="#1a1a1a" textLength="101.14" lengthAdjust="spacingAndGlyphs">Pooled FVIII deficient plasma</text>
<rect x="324.6" y="463.7" width="6.899999999999977" height="5.300000000000011" fill="#858585"/>
<text x="334.24" y="468.66" font-size="8.4" fill="#1a1a1a" color="#1a1a1a" textLength="54.39" lengthAdjust="spacingAndGlyphs">High-TM model</text>
<rect x="324.6" y="476.0" width="6.899999999999977" height="5.300000000000011" fill="#3b3b3b"/>
<text x="334.72" y="480.92" font-size="8.4" fill="#1a1a1a" color="#1a1a1a" textLength="24.76" lengthAdjust="spacingAndGlyphs">TM-AC</text>
<rect x="366.95" y="495.50" width="11.6" height="10.00" fill="#fff" opacity="0.4"/>
<rect x="380.45" y="513.40" width="11.6" height="10.00" fill="#fff" opacity="0.4"/>
<rect x="415.95" y="479.00" width="11.6" height="10.00" fill="#fff" opacity="0.4"/>
<rect x="429.45" y="475.70" width="11.6" height="10.00" fill="#fff" opacity="0.4"/>
<rect x="442.85" y="495.20" width="11.6" height="10.00" fill="#fff" opacity="0.4"/>
<rect x="464.65" y="477.30" width="11.6" height="10.00" fill="#fff" opacity="0.4"/>
<rect x="478.15" y="462.60" width="11.6" height="10.00" fill="#fff" opacity="0.4"/>
<rect x="491.55" y="461.40" width="11.6" height="10.00" fill="#fff" opacity="0.4"/>
<rect x="317.4" y="558.8" width="13.100000000000023" height="18.800000000000068" fill="#c3c3c3"/>
<rect x="317.7" y="559.0999999999999" width="12.500000000000023" height="18.200000000000067" fill="none" stroke="#aaaaaa" stroke-width="0.6"/>
<line x1="323.95" y1="558.8" x2="323.95" y2="558.3" stroke="#000" stroke-width="1.2"/>
<line x1="320.75" y1="558.3" x2="327.15" y2="558.3" stroke="#000" stroke-width="1.2"/>
<rect x="330.9" y="553.1" width="13.100000000000023" height="24.5" fill="#858585"/>
<rect x="331.2" y="553.4" width="12.500000000000023" height="23.9" fill="none" stroke="#707070" stroke-width="0.6"/>
<line x1="337.45" y1="553.1" x2="337.45" y2="552.5" stroke="#000" stroke-width="1.2"/>
<line x1="334.25" y1="552.5" x2="340.65" y2="552.5" stroke="#000" stroke-width="1.2"/>
<rect x="344.3" y="565.6" width="13.100000000000023" height="12.0" fill="#3b3b3b"/>
<rect x="344.6" y="565.9" width="12.500000000000023" height="11.4" fill="none" stroke="#222" stroke-width="0.6"/>
<line x1="350.85" y1="565.6" x2="350.85" y2="562.3" stroke="#000" stroke-width="1.2"/>
<line x1="347.75" y1="562.3" x2="353.95000000000005" y2="562.3" stroke="#000" stroke-width="1.2"/>
<line x1="337.5" y1="577.6" x2="337.5" y2="580.2" stroke="#111" stroke-width="1.2"/>
<rect x="366.2" y="506.5" width="13.100000000000023" height="71.10000000000002" fill="#c3c3c3"/>
<rect x="366.5" y="506.8" width="12.500000000000023" height="70.50000000000003" fill="none" stroke="#aaaaaa" stroke-width="0.6"/>
<line x1="372.75" y1="506.5" x2="372.75" y2="505.0" stroke="#000" stroke-width="1.2"/>
<line x1="369.55" y1="505.0" x2="375.95" y2="505.0" stroke="#000" stroke-width="1.2"/>
<circle cx="370.8" cy="499.1" r="1.25" fill="#151515" stroke="none" stroke-width="0"/>
<circle cx="374.7" cy="499.1" r="1.25" fill="#151515" stroke="none" stroke-width="0"/>
<rect x="379.7" y="523.8" width="13.100000000000023" height="53.80000000000007" fill="#858585"/>
<rect x="380.0" y="524.0999999999999" width="12.500000000000023" height="53.20000000000007" fill="none" stroke="#707070" stroke-width="0.6"/>
<line x1="386.25" y1="523.8" x2="386.25" y2="522.9" stroke="#000" stroke-width="1.2"/>
<line x1="383.05" y1="522.9" x2="389.45" y2="522.9" stroke="#000" stroke-width="1.2"/>
<circle cx="384.3" cy="517.0" r="1.25" fill="#151515" stroke="none" stroke-width="0"/>
<circle cx="388.2" cy="517.0" r="1.25" fill="#151515" stroke="none" stroke-width="0"/>
<rect x="393.1" y="557.9" width="13.100000000000023" height="19.700000000000045" fill="#3b3b3b"/>
<rect x="393.40000000000003" y="558.1999999999999" width="12.500000000000023" height="19.100000000000044" fill="none" stroke="#222" stroke-width="0.6"/>
<line x1="399.65000000000003" y1="557.9" x2="399.65000000000003" y2="554.0" stroke="#000" stroke-width="1.2"/>
<line x1="396.55" y1="554.0" x2="402.75000000000006" y2="554.0" stroke="#000" stroke-width="1.2"/>
<text x="393.48" y="552.02" font-size="8.4" fill="#1a1a1a" color="#1a1a1a" textLength="12.10" lengthAdjust="spacingAndGlyphs">NS</text>
<line x1="386.3" y1="577.6" x2="386.3" y2="580.2" stroke="#111" stroke-width="1.2"/>
<rect x="415.2" y="491.3" width="13.100000000000023" height="86.30000000000001" fill="#c3c3c3"/>
<rect x="415.5" y="491.6" width="12.500000000000023" height="85.70000000000002" fill="none" stroke="#aaaaaa" stroke-width="0.6"/>
<line x1="421.75" y1="491.3" x2="421.75" y2="488.5" stroke="#000" stroke-width="1.2"/>
<line x1="418.55" y1="488.5" x2="424.95" y2="488.5" stroke="#000" stroke-width="1.2"/>
<circle cx="419.8" cy="482.6" r="1.25" fill="#151515" stroke="none" stroke-width="0"/>
<circle cx="423.7" cy="482.6" r="1.25" fill="#151515" stroke="none" stroke-width="0"/>
<rect x="428.7" y="485.8" width="13.100000000000023" height="91.80000000000001" fill="#858585"/>
<rect x="429.0" y="486.1" width="12.500000000000023" height="91.20000000000002" fill="none" stroke="#707070" stroke-width="0.6"/>
<line x1="435.25" y1="485.8" x2="435.25" y2="485.2" stroke="#000" stroke-width="1.2"/>
<line x1="432.05" y1="485.2" x2="438.45" y2="485.2" stroke="#000" stroke-width="1.2"/>
<circle cx="433.3" cy="479.3" r="1.25" fill="#151515" stroke="none" stroke-width="0"/>
<circle cx="437.2" cy="479.3" r="1.25" fill="#151515" stroke="none" stroke-width="0"/>
<rect x="442.1" y="517.3" width="13.100000000000023" height="60.30000000000007" fill="#3b3b3b"/>
<rect x="442.40000000000003" y="517.5999999999999" width="12.500000000000023" height="59.70000000000007" fill="none" stroke="#222" stroke-width="0.6"/>
<line x1="448.65000000000003" y1="517.3" x2="448.65000000000003" y2="504.7" stroke="#000" stroke-width="1.2"/>
<line x1="445.55" y1="504.7" x2="451.75000000000006" y2="504.7" stroke="#000" stroke-width="1.2"/>
<circle cx="446.70000000000005" cy="498.8" r="1.25" fill="#151515" stroke="none" stroke-width="0"/>
<circle cx="450.6" cy="498.8" r="1.25" fill="#151515" stroke="none" stroke-width="0"/>
<line x1="435.3" y1="577.6" x2="435.3" y2="580.2" stroke="#111" stroke-width="1.2"/>
<rect x="463.9" y="491.0" width="13.100000000000023" height="86.60000000000002" fill="#c3c3c3"/>
<rect x="464.2" y="491.3" width="12.500000000000023" height="86.00000000000003" fill="none" stroke="#aaaaaa" stroke-width="0.6"/>
<line x1="470.45" y1="491.0" x2="470.45" y2="486.8" stroke="#000" stroke-width="1.2"/>
<line x1="467.25" y1="486.8" x2="473.65" y2="486.8" stroke="#000" stroke-width="1.2"/>
<circle cx="468.5" cy="480.90000000000003" r="1.25" fill="#151515" stroke="none" stroke-width="0"/>
<circle cx="472.4" cy="480.90000000000003" r="1.25" fill="#151515" stroke="none" stroke-width="0"/>
<rect x="477.4" y="474.9" width="13.100000000000023" height="102.70000000000005" fill="#858585"/>
<rect x="477.7" y="475.2" width="12.500000000000023" height="102.10000000000005" fill="none" stroke="#707070" stroke-width="0.6"/>
<line x1="483.95" y1="474.9" x2="483.95" y2="472.1" stroke="#000" stroke-width="1.2"/>
<line x1="480.75" y1="472.1" x2="487.15" y2="472.1" stroke="#000" stroke-width="1.2"/>
<circle cx="482.0" cy="466.20000000000005" r="1.25" fill="#151515" stroke="none" stroke-width="0"/>
<circle cx="485.9" cy="466.20000000000005" r="1.25" fill="#151515" stroke="none" stroke-width="0"/>
<rect x="490.8" y="487.5" width="13.100000000000023" height="90.10000000000002" fill="#3b3b3b"/>
<rect x="491.1" y="487.8" width="12.500000000000023" height="89.50000000000003" fill="none" stroke="#222" stroke-width="0.6"/>
<line x1="497.35" y1="487.5" x2="497.35" y2="470.9" stroke="#000" stroke-width="1.2"/>
<line x1="494.25" y1="470.9" x2="500.45000000000005" y2="470.9" stroke="#000" stroke-width="1.2"/>
<circle cx="495.40000000000003" cy="465.0" r="1.25" fill="#151515" stroke="none" stroke-width="0"/>
<circle cx="499.3" cy="465.0" r="1.25" fill="#151515" stroke="none" stroke-width="0"/>
<line x1="484.0" y1="577.6" x2="484.0" y2="580.2" stroke="#111" stroke-width="1.2"/>
<line x1="312.59999999999997" y1="577.6" x2="508.6" y2="577.6" stroke="#111" stroke-width="1.45"/>
<text x="329.96" y="590.92" font-size="8.3" fill="#1a1a1a" color="#1a1a1a" textLength="15.27" lengthAdjust="spacingAndGlyphs">0.00</text>
<text x="378.96" y="590.92" font-size="8.3" fill="#1a1a1a" color="#1a1a1a" textLength="15.29" lengthAdjust="spacingAndGlyphs">0.25</text>
<text x="427.66" y="590.92" font-size="8.3" fill="#1a1a1a" color="#1a1a1a" textLength="15.27" lengthAdjust="spacingAndGlyphs">0.50</text>
<text x="475.96" y="590.92" font-size="8.3" fill="#1a1a1a" color="#1a1a1a" textLength="15.29" lengthAdjust="spacingAndGlyphs">0.75</text>
<text x="386.43" y="605.53" font-size="9.5" fill="#1a1a1a" color="#1a1a1a" textLength="49.31" lengthAdjust="spacingAndGlyphs">aPCC (U/ml)</text>
<rect x="0" y="0" width="520" height="1" fill="#000"/><rect x="0" y="0" width="1" height="615" fill="#000"/><rect x="519" y="0" width="1" height="615" fill="#000"/><rect x="0" y="614" width="520" height="1" fill="#000"/><rect x="518" y="0" width="1" height="615" fill="#000" opacity="0.25"/><rect x="0" y="613" width="520" height="1" fill="#000" opacity="0.3"/>
</svg>
</body></html>
